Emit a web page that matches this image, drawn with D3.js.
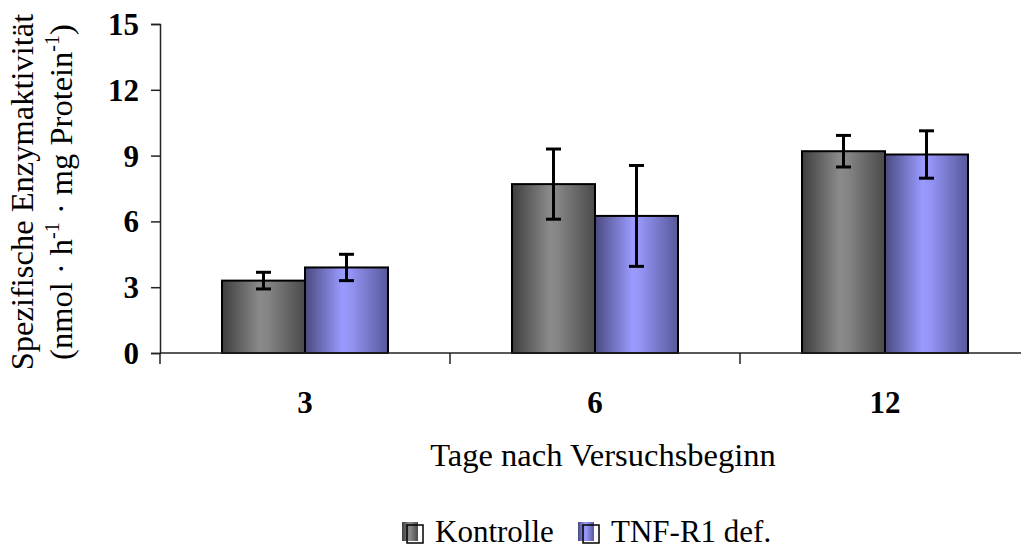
<!DOCTYPE html>
<html>
<head>
<meta charset="utf-8">
<script src="https://cdn.jsdelivr.net/npm/d3@7"></script>
<style>
  body { margin: 0; background: #fff; }
  svg { display: block; font-family: "Liberation Serif", "Times New Roman", serif; }
</style>
</head>
<body>
<svg id="chart" width="1021" height="548"></svg>
<script>
const categories = ["3", "6", "12"];
const seriesNames = ["Kontrolle", "TNF-R1 def."];
const kontrolle = [3.3, 7.7, 9.2];
const kontrolleErr = [0.38, 1.6, 0.72];
const tnf = [3.9, 6.25, 9.05];
const tnfErr = [0.6, 2.3, 1.08];
const yTicks = [0, 3, 6, 9, 12, 15];

const svg = d3.select("#chart");
const defs = svg.append("defs");

const gradDefs = [
  { id: "gGray", stops: [["0%", "#3e3e3e"], ["45%", "#8a8a8a"], ["55%", "#858585"], ["100%", "#4a4a4a"]] },
  { id: "gBlue", stops: [["0%", "#4a4a80"], ["45%", "#9a9aff"], ["55%", "#9494f5"], ["100%", "#58589a"]] }
];
gradDefs.forEach(g => {
  const lg = defs.append("linearGradient").attr("id", g.id)
    .attr("x1", "0%").attr("x2", "100%").attr("y1", "0%").attr("y2", "0%");
  g.stops.forEach(s => lg.append("stop").attr("offset", s[0]).attr("stop-color", s[1]));
});
const fills = ["url(#gGray)", "url(#gBlue)"];

const x = d3.scaleBand().domain(categories).range([160, 1030]).paddingInner(0).paddingOuter(0);
const bw = x.bandwidth();
const xs = d3.scaleBand().domain(seriesNames).range([bw / 2 - 83, bw / 2 + 83]).padding(0);
const y = d3.scaleLinear().domain([0, 15]).range([353, 24]);

const data = [];
categories.forEach((c, i) => {
  data.push({ cat: c, s: seriesNames[0], v: kontrolle[i], e: kontrolleErr[i], f: fills[0] });
  data.push({ cat: c, s: seriesNames[1], v: tnf[i], e: tnfErr[i], f: fills[1] });
});

// bars
svg.append("g").selectAll("rect").data(data).join("rect")
  .attr("x", d => x(d.cat) + xs(d.s))
  .attr("y", d => y(d.v))
  .attr("width", xs.bandwidth())
  .attr("height", d => y(0) - y(d.v))
  .attr("fill", d => d.f)
  .attr("stroke", "#000")
  .attr("stroke-width", 2);

// error bars
const eg = svg.append("g").attr("stroke", "#000").attr("stroke-width", 3);
data.forEach(d => {
  const cx = x(d.cat) + xs(d.s) + xs.bandwidth() / 2;
  eg.append("line").attr("x1", cx).attr("x2", cx).attr("y1", y(d.v + d.e)).attr("y2", y(d.v - d.e));
  eg.append("line").attr("x1", cx - 7.5).attr("x2", cx + 7.5).attr("y1", y(d.v + d.e)).attr("y2", y(d.v + d.e));
  eg.append("line").attr("x1", cx - 7.5).attr("x2", cx + 7.5).attr("y1", y(d.v - d.e)).attr("y2", y(d.v - d.e));
});

// y axis
const yAxis = d3.axisLeft(y).tickValues(yTicks).tickSize(9).tickPadding(12).tickFormat(d3.format("d"));
const yg = svg.append("g").attr("transform", "translate(160,0)").call(yAxis);
yg.select(".domain").attr("stroke", "#222").attr("stroke-width", 1.5);
yg.selectAll(".tick line").attr("stroke", "#222").attr("stroke-width", 1.5);
yg.selectAll(".tick text").attr("font-size", 31).attr("font-weight", "bold")
  .attr("font-family", "Liberation Serif, Times New Roman, serif").attr("fill", "#000")
  .attr("dy", "0.34em");

// x axis
const xg = svg.append("g");
xg.append("line").attr("x1", 160).attr("x2", 1021).attr("y1", y(0)).attr("y2", y(0))
  .attr("stroke", "#222").attr("stroke-width", 1.5);
categories.forEach(c => {
  xg.append("line").attr("x1", x(c)).attr("x2", x(c)).attr("y1", y(0)).attr("y2", y(0) + 11)
    .attr("stroke", "#222").attr("stroke-width", 1.5);
  xg.append("text").attr("x", x(c) + bw / 2).attr("y", 413)
    .attr("text-anchor", "middle").attr("font-size", 31).attr("font-weight", "bold").text(c);
});

// x title
svg.append("text").attr("x", 603).attr("y", 466).attr("text-anchor", "middle")
  .attr("font-size", 32.5).text("Tage nach Versuchsbeginn");

// y title
const yt = svg.append("g").attr("transform", "translate(0,192) rotate(-90)");
yt.append("text").attr("x", 0).attr("y", 33).attr("text-anchor", "middle")
  .attr("font-size", 32.5).text("Spezifische Enzymaktivität");
const t2 = yt.append("text").attr("x", 0).attr("y", 72).attr("text-anchor", "middle").attr("font-size", 32.5);
t2.append("tspan").text("(nmol · h");
t2.append("tspan").attr("font-size", 20).attr("dy", -13).text("-1");
t2.append("tspan").attr("dy", 13).text(" · mg Protein");
t2.append("tspan").attr("font-size", 20).attr("dy", -13).text("-1");
t2.append("tspan").attr("dy", 13).text(")");

// legend
const legendX = [402, 578];
seriesNames.forEach((s, i) => {
  const lx = legendX[i];
  svg.append("rect").attr("x", lx).attr("y", 522).attr("width", 16).attr("height", 19)
    .attr("fill", fills[i]);
  svg.append("rect").attr("x", lx + 5).attr("y", 525).attr("width", 16).attr("height", 18)
    .attr("fill", "none").attr("stroke", "#000").attr("stroke-width", 1.5);
  svg.append("text").attr("x", lx + 33).attr("y", 542).attr("font-size", 31).text(s);
});
</script>
</body>
</html>
